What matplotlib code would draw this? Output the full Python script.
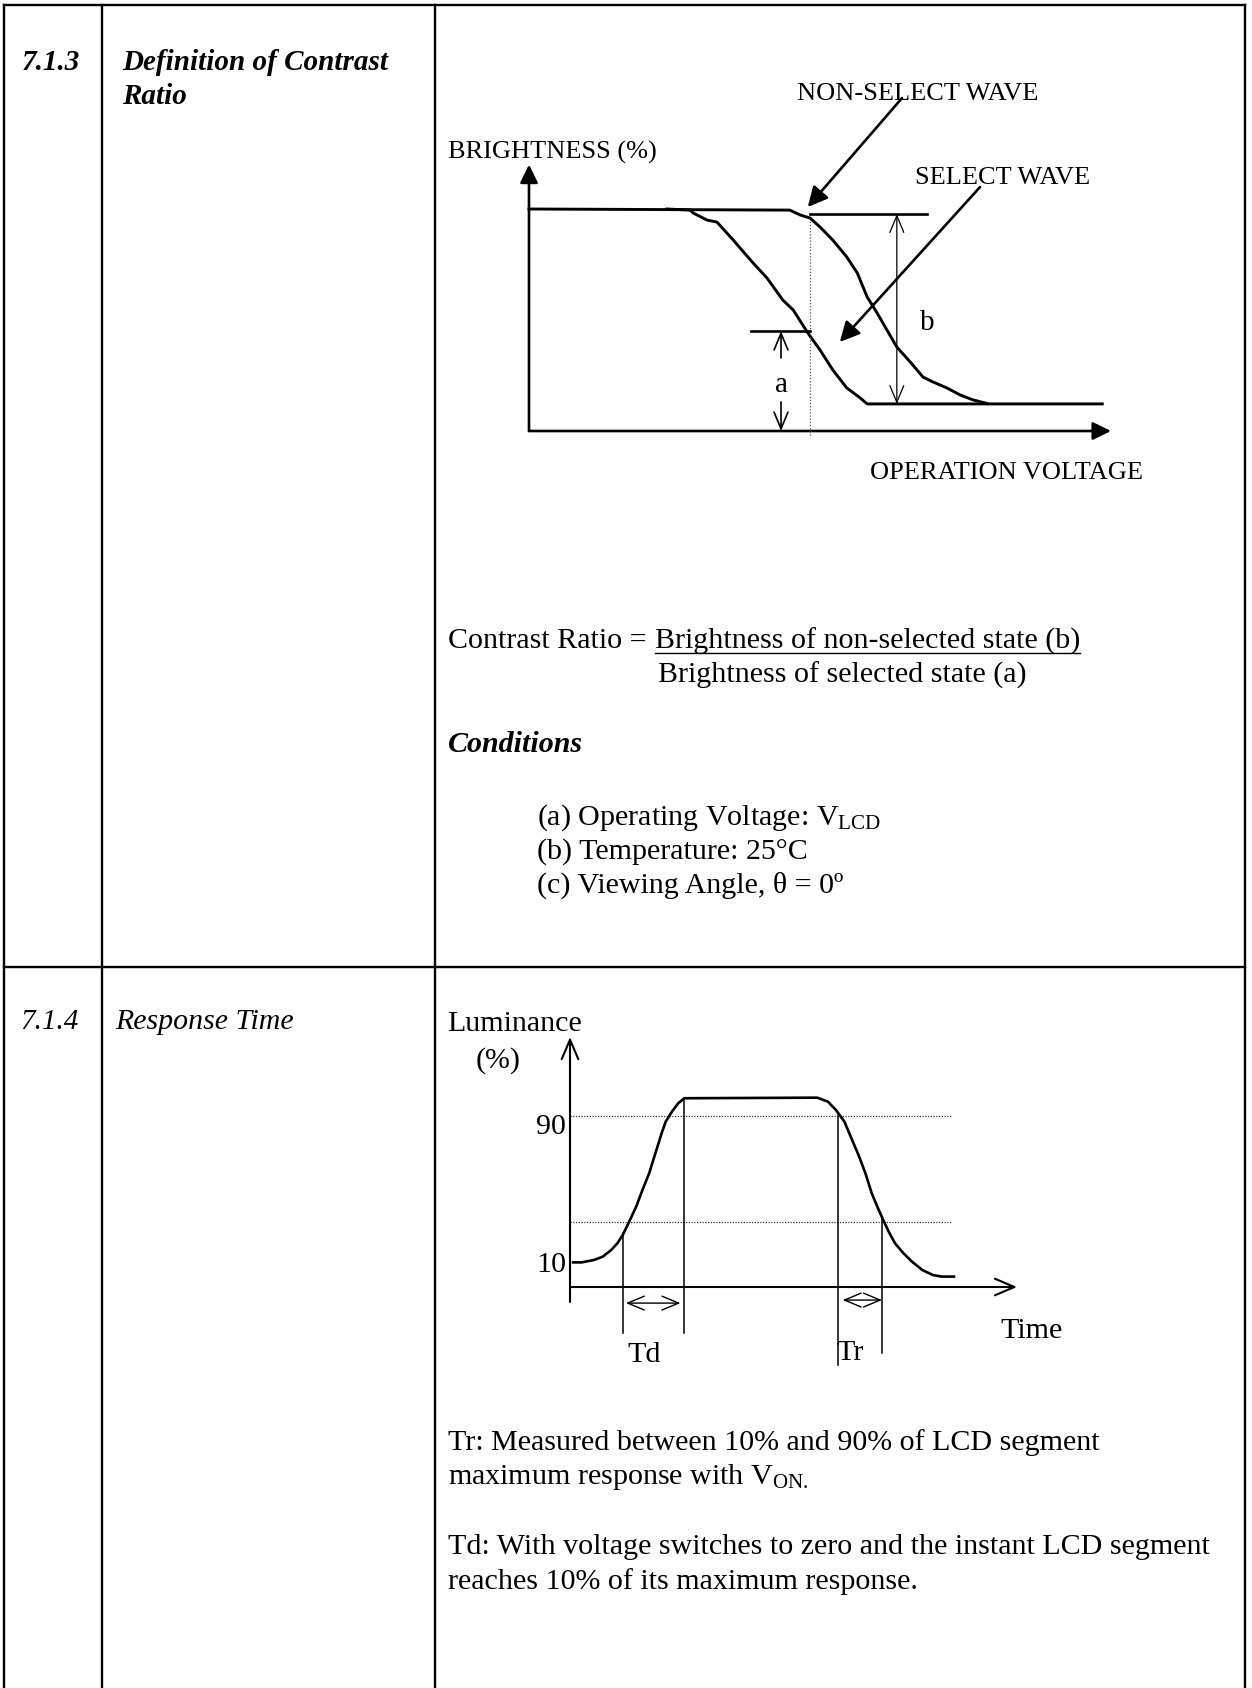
"""Recreate the LCD contrast-ratio / response-time spec sheet page."""

import matplotlib

matplotlib.use("Agg")
import matplotlib.pyplot as plt

plt.rcParams["font.family"] = ["Liberation Serif", "DejaVu Serif"]
plt.rcParams["mathtext.fontset"] = "custom"
plt.rcParams["mathtext.rm"] = "Liberation Serif"
plt.rcParams["mathtext.it"] = "Liberation Serif:italic"

W, H = 1252, 1688
INK = "#000000"
BODY = 21.6

# 7.1.3 chart: operation voltage (% of span) vs brightness (%)
select_v = [23.7, 27.7, 28.2, 30.6, 32.3, 35.1, 37.6, 38.5, 40.9, 43.6, 45.4,
            47.8, 50.0, 52.2, 54.6, 56.9, 58.1, 98.5]
select_b = [100, 99.5, 98.2, 95.0, 94.1, 86.0, 78.4, 75.7, 68.9, 59.0, 54.5,
            44.6, 36.5, 27.5, 19.4, 14.9, 12.2, 12.2]
nonsel_v = [0, 44.8, 46.6, 48.3, 50.0, 52.2, 54.6, 56.4, 58.1, 59.8, 61.5,
            63.2, 65.5, 67.7, 69.4, 71.8, 74.1, 76.3, 78.7]
nonsel_b = [100, 99.5, 97.3, 95.9, 91.9, 86.0, 78.4, 71.2, 60.4, 53.2, 45.5,
            37.8, 31.1, 24.3, 22.1, 19.4, 16.2, 14.0, 12.4]
level_b = 97.7      # non-selected brightness marker
level_a = 45.0      # selected brightness marker
probe_v = 48.3      # operating voltage (dotted line)

# 7.1.4 chart: time (% of span) vs luminance (%)
resp_t = [0.7, 2.6, 5.4, 7.3, 9.2, 10.6, 11.8, 12.9, 14.8, 16.2, 17.7, 19.1,
          20.5, 21.4, 22.8, 24.2, 25.6,
          55.3, 57.7, 59.5, 61.4, 62.8, 64.7, 66.1, 67.5, 68.9, 69.9, 71.3,
          72.7, 74.6, 76.5, 78.8, 81.2, 83.1, 85.9]
resp_l = [13.0, 13.0, 14.3, 16.0, 19.5, 23.1, 27.5, 32.8, 42.4, 51.2, 60.0, 70.6,
          81.2, 87.3, 92.6, 97.0, 99.7,
          100, 97.9, 93.5, 87.3, 79.4, 68.8, 60.0, 49.5, 41.6, 36.3, 29.2,
          23.1, 17.8, 13.4, 9.0, 6.3, 5.5, 5.5]
lum_levels = [90.3, 34.3]
td_marks = [11.8, 25.6]
tr_marks = [60.0, 69.9]

TR_TEXT = [
    "Tr: Measured between 10% and 90% of LCD segment",
    r"maximum response with V$_{\mathrm{ON.}}$",
]
TD_TEXT = [
    "Td: With voltage switches to zero and the instant LCD segment",
    "reaches 10% of its maximum response.",
]
CONDITIONS = [
    r"(a) Operating Voltage: V$_{\mathrm{LCD}}$",
    "(b) Temperature: 25°C",
    "(c) Viewing Angle, θ = 0º",
]


def chart_axes(fig, left, right, top, bottom, xlim, ylim):
    ax = fig.add_axes([left / W, 1 - bottom / H, (right - left) / W, (bottom - top) / H])
    ax.set_xlim(*xlim)
    ax.set_ylim(*ylim)
    ax.axis("off")
    return ax


def arrow(ax, start, end, style, lw, scale=20):
    ax.annotate("", xy=end, xytext=start, annotation_clip=False,
                arrowprops=dict(arrowstyle=style, lw=lw, color=INK,
                                shrinkA=0, shrinkB=0, mutation_scale=scale))


def main():
    fig = plt.figure(figsize=(W / 100, H / 100), dpi=100)
    page = fig.add_axes([0, 0, 1, 1])
    page.set_xlim(0, W)
    page.set_ylim(H, 0)
    page.axis("off")

    # table grid
    for x in (3.5, 101.7, 435, 1245):
        page.plot([x, x], [5, H], color=INK, lw=1.7, solid_capstyle="projecting")
    for y in (5, 966.7):
        page.plot([3.5, 1245], [y, y], color=INK, lw=1.7, solid_capstyle="projecting")

    # left columns
    bi = dict(fontsize=21, weight="bold", style="italic", va="center")
    page.text(22, 63, "7.1.3", **bi)
    page.text(122, 63, "Definition of Contrast", **bi)
    page.text(122, 96, "Ratio", **bi)
    page.text(20, 1022, "7.1.4", fontsize=21, style="italic", va="center")
    page.text(115, 1022, "Response Time", fontsize=21.5, style="italic", va="center")

    # ---- chart 1 ----
    ax1 = chart_axes(fig, 529, 1111, 164.6, 442.1, (0, 100), (-5, 120))
    arrow(ax1, (0, 0), (0, 120), "-|>,head_length=0.55,head_width=0.27", 1.9)
    arrow(ax1, (0, 0), (100, 0), "-|>,head_length=0.55,head_width=0.27", 1.9)
    ax1.plot(nonsel_v, nonsel_b, color=INK, lw=2.1, clip_on=False, solid_joinstyle="round")
    ax1.plot(select_v, select_b, color=INK, lw=2.1, clip_on=False, solid_joinstyle="round")
    ax1.plot([probe_v, probe_v], [-1.8, 95], color="#555555", lw=0.9, ls=(0, (1, 1.5)))
    ax1.plot([probe_v, 68.4], [level_b, level_b], color=INK, lw=1.9)
    ax1.plot([38.1, probe_v], [level_a, level_a], color=INK, lw=1.9)
    arrow(ax1, (63.2, 12.2), (63.2, level_b), "<->,head_length=0.6,head_width=0.25", 0.9)
    arrow(ax1, (43.3, 32.9), (43.3, level_a), "->,head_length=0.6,head_width=0.25", 1.2)
    arrow(ax1, (43.3, 13.1), (43.3, 0), "->,head_length=0.6,head_width=0.25", 1.2)
    ax1.text(68.4, 48.5, "b", fontsize=21, ha="center", va="center")
    ax1.text(43.3, 20.5, "a", fontsize=21, ha="center", va="center")
    arrow(ax1, (64.1, 150), (47.9, 100.9), "-|>,head_length=0.6,head_width=0.3", 1.9)
    arrow(ax1, (77.5, 109.9), (53.4, 40.1), "-|>,head_length=0.6,head_width=0.3", 1.9)
    page.text(448, 152, "BRIGHTNESS (%)", fontsize=19, va="center")
    page.text(797, 94, "NON-SELECT WAVE", fontsize=19, va="center")
    page.text(915, 178, "SELECT WAVE", fontsize=19, va="center")
    page.text(870, 473, "OPERATION VOLTAGE", fontsize=19, va="center")

    # ---- contrast ratio text ----
    page.text(448, 641, "Contrast Ratio = ", fontsize=BODY, va="center")
    num = page.text(655, 641, "Brightness of non-selected state (b)", fontsize=BODY, va="center")
    page.text(658, 675, "Brightness of selected state (a)", fontsize=BODY, va="center")
    fig.canvas.draw()
    bb = num.get_window_extent().transformed(page.transData.inverted())
    page.plot([bb.x0, bb.x1], [653, 653], color=INK, lw=1.0)
    page.text(448, 745, "Conditions", fontsize=BODY, weight="bold", style="italic", va="center")
    for y, line in zip((818, 852, 885), CONDITIONS):
        page.text(537, y, line, fontsize=BODY, va="center")

    # ---- chart 2 ----
    ax2 = chart_axes(fig, 570, 1017, 1031.4, 1372.2, (0, 100), (-45, 135))
    arrow(ax2, (0, -7.9), (0, 132), "->,head_length=0.7,head_width=0.3", 1.5)
    arrow(ax2, (0, 0), (100, 0), "->,head_length=0.7,head_width=0.3", 1.5)
    for lv in lum_levels:
        ax2.plot([0, 85.5], [lv, lv], color="#333333", lw=0.9, ls=(0, (1, 1.2)))
    ax2.plot(resp_t, resp_l, color=INK, lw=1.9, clip_on=False, solid_joinstyle="round")
    ax2.plot([td_marks[0]] * 2, [28.5, -24.3], color=INK, lw=1.1)
    ax2.plot([td_marks[1]] * 2, [100, -24.3], color=INK, lw=1.1)
    ax2.plot([tr_marks[0]] * 2, [90.9, -41.2], color=INK, lw=1.1)
    ax2.plot([tr_marks[1]] * 2, [36.3, -34.9], color=INK, lw=1.1)
    arrow(ax2, (12.5, -8.5), (24.7, -8.5), "<->,head_length=0.6,head_width=0.25", 1.0)
    arrow(ax2, (61.0, -6.9), (69.8, -6.9), "<->,head_length=0.6,head_width=0.25", 1.0)
    ax2.text(16.7, -36.0, "Td", fontsize=BODY, ha="center", va="center")
    ax2.text(62.6, -35.0, "Tr", fontsize=BODY, ha="center", va="center")
    page.text(447, 1024, "Luminance", fontsize=BODY, va="center")
    page.text(498, 1061, "(%)", fontsize=BODY, ha="center", va="center")
    page.text(566, 1127, "90", fontsize=BODY, ha="right", va="center")
    page.text(566, 1265, "10", fontsize=BODY, ha="right", va="center")
    page.text(1032, 1331, "Time", fontsize=BODY, ha="center", va="center")

    for y, line in zip((1443, 1477), TR_TEXT):
        page.text(448, y, line, fontsize=BODY, va="center")
    for y, line in zip((1547, 1582), TD_TEXT):
        page.text(448, y, line, fontsize=BODY, va="center")

    fig.savefig("out.png", dpi=100, facecolor="white")
    plt.close(fig)


if __name__ == "__main__":
    main()
